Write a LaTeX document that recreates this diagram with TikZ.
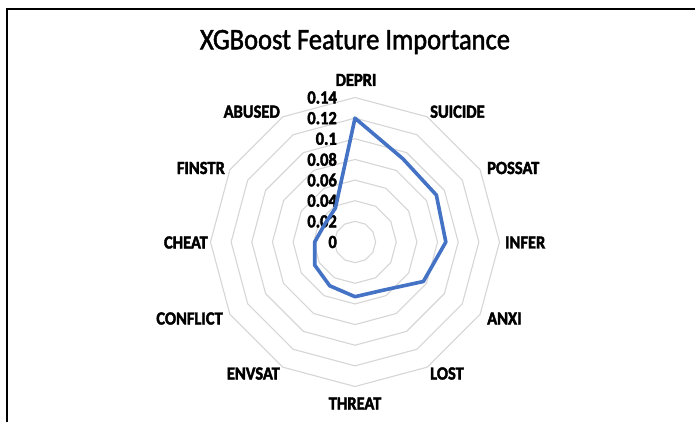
\documentclass[tikz,border=0pt]{standalone}
\usepackage{fontspec}
\setmainfont{Carlito}
\newfontfamily\lblfont{Carlito Bold}[FakeBold=2.2, FakeStretch=0.89]
\newfontfamily\titlefont{Carlito}[FakeBold=1.6, FakeStretch=0.89]
\definecolor{gridgray}{HTML}{D6D6D6}
\definecolor{seriesblue}{HTML}{4472C4}
\tikzset{
  ring/.style={draw=gridgray, line width=1.1pt},
  series/.style={draw=seriesblue, line width=3.6pt, line join=round},
  catlabel/.style={inner sep=0pt, font=\lblfont\fontsize{18.5}{20}\selectfont},
  ticklabel/.style={inner sep=0pt, anchor=east, font=\lblfont\fontsize{18.5}{20}\selectfont},
  frameline/.style={draw=black, line width=2pt}
}
\begin{document}
\begin{tikzpicture}[x=1pt,y=-1pt]
  \useasboundingbox (0,0) rectangle (695,422);
  \fill[white] (0,0) rectangle (695,422);
  % frame edges
  \draw[frameline] (695,9) -- (7,9) -- (7,422);

  \def\cx{355}
  \def\cy{242}
  \def\R{144.5}

  % title
  \node[inner sep=0pt, font=\titlefont\fontsize{29.8}{32}\selectfont] (title) at (355,42) {XGBoost Feature Importance};

  % concentric 12-sided grid rings, 0.02 to 0.14
  \foreach \k in {1,...,7} {
    \draw[ring] plot[samples at={0,30,...,330}]
      ({\cx+\k*\R/7*cos(90-\x)}, {\cy-\k*\R/7*sin(90-\x)}) -- cycle;
  }

  % value axis labels
  \foreach \v [count=\i from 0] in {0,0.02,0.04,0.06,0.08,0.1,0.12,0.14} {
    \node[ticklabel] (tick\i) at (337, {\cy-\i*\R/7}) {\v};
  }

  % data points (importance per feature, clockwise from top)
  \foreach \v [count=\i from 0] in {0.12,0.093,0.091,0.088,0.0765,0.054,0.053,0.049,0.045,0.039,0.034,0.038} {
    \coordinate (d\i) at ({\cx+\v/0.14*\R*cos(90-30*\i)}, {\cy-\v/0.14*\R*sin(90-30*\i)});
  }
  \draw[series] (d0) -- (d1) -- (d2) -- (d3) -- (d4) -- (d5) -- (d6)
    -- (d7) -- (d8) -- (d9) -- (d10) -- (d11) -- cycle;

  % category labels
  \node[catlabel] (depri) at (356,80) {DEPRI};
  \node[catlabel, anchor=west] (suicide) at (430,111.7) {SUICIDE};
  \node[catlabel, anchor=west] (possat) at (487,168) {POSSAT};
  \node[catlabel, anchor=west] (infer) at (505,242.5) {INFER};
  \node[catlabel, anchor=west] (anxi) at (487,318.5) {ANXI};
  \node[catlabel, anchor=west] (lost) at (430,373.5) {LOST};
  \node[catlabel] (threat) at (355,403.5) {THREAT};
  \node[catlabel, anchor=east] (envsat) at (280,373.5) {ENVSAT};
  \node[catlabel, anchor=east] (conflict) at (223,318.5) {CONFLICT};
  \node[catlabel, anchor=east] (cheat) at (208,242.5) {CHEAT};
  \node[catlabel, anchor=east] (finstr) at (225,168) {FINSTR};
  \node[catlabel, anchor=east] (abused) at (280,111.7) {ABUSED};
\end{tikzpicture}
\end{document}
